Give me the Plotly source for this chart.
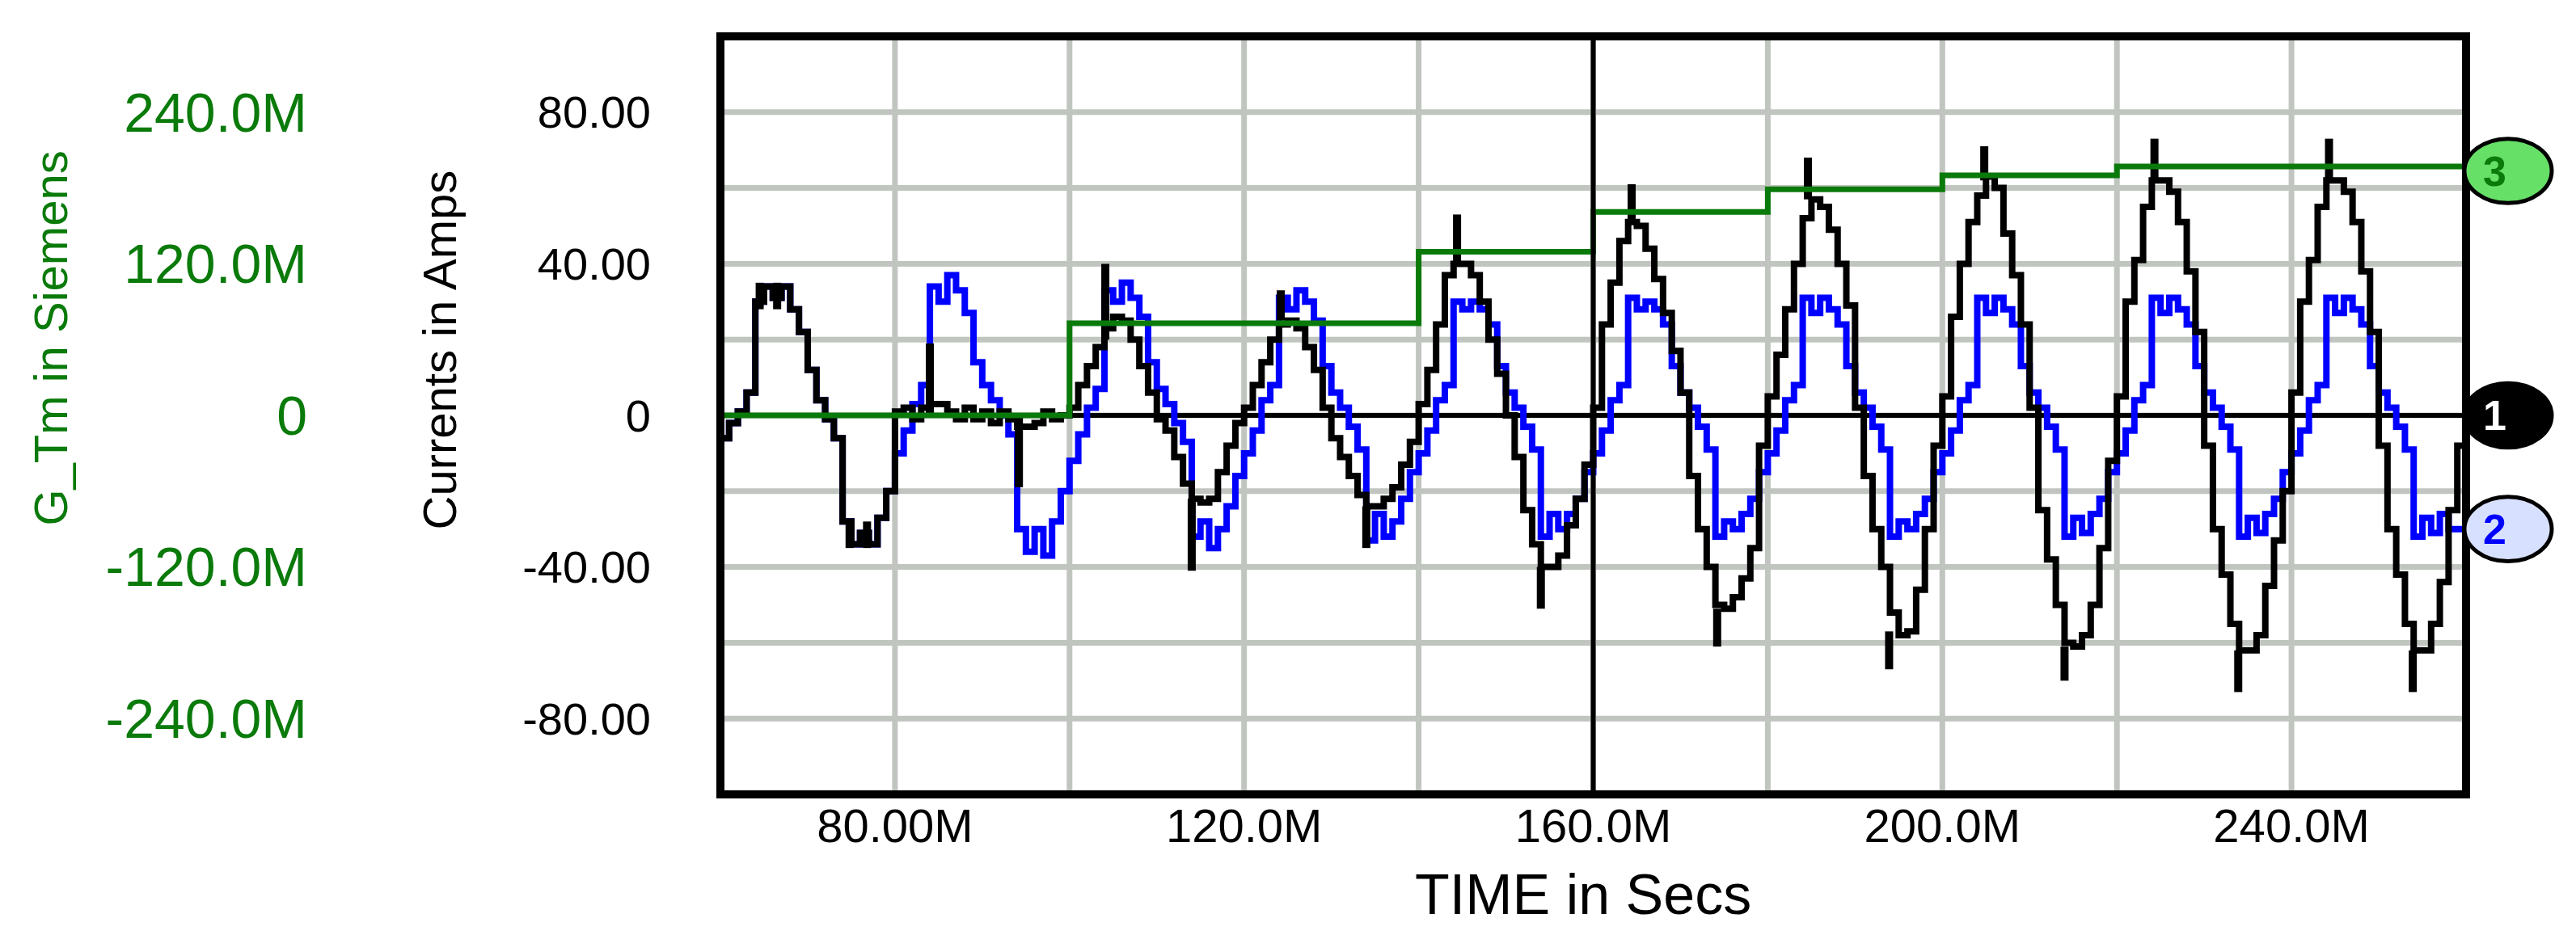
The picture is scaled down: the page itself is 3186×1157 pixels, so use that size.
import plotly.graph_objects as go

# ---- data (time in M-seconds, currents in A, conductance in M Siemens) ----
t_black = list(range(60, 261))
black = [
    -6, -2, 1, 6, 30, 34, 31, 34, 28, 22, 12, 4, -1, -6, -28, -34, -31, -34, -27, -20,          # 60-79
    1, 2, -1, 2, 3, 3, 1, -1, 2, -1, 1, -2, 1, -1, -3, -3, -2, 1, -1, 0,                        # 80-99
    2, 8, 13, 18, 23, 26, 25, 20, 13, 6, -1, -4, -11, -18, -22, -23, -22, -15, -8, -2,          # 100-119
    2, 8, 14, 20, 24, 25, 23, 18, 12, 2, -6, -11, -16, -21, -24, -24, -22, -19, -13, -7,        # 120-139
    3, 12, 24, 37, 40, 40, 37, 30, 20, 11, 0, -11, -25, -34, -40, -40, -37, -29, -22, -13,      # 140-159
    2, 24, 35, 46, 51, 50, 44, 36, 27, 17, 6, -16, -30, -40, -50, -51, -48, -43, -35, -8,       # 160-179
    5, 16, 28, 40, 52, 57, 55, 49, 40, 29, 2, -16, -30, -40, -52, -58, -57, -46, -30, -8,       # 180-199
    5, 26, 40, 51, 58, 63, 60, 48, 37, 24, 2, -25, -38, -50, -60, -61, -58, -50, -35, -12,      # 200-219
    5, 30, 41, 55, 62, 62, 59, 51, 38, 22, -8, -30, -42, -55, -62, -62, -58, -45, -33, -20,     # 220-239
    6, 30, 41, 55, 62, 62, 59, 51, 38, 22, -8, -30, -42, -55, -62, -62, -55, -44, -25, -8,      # 240-259
    -5,                                                                                          # 260
]
spike_t = [64.5, 66.5, 74.8, 76.8, 84.0, 94.2, 104.1, 114.0, 124.2, 134.0, 144.4, 154.0,
           164.4, 174.2, 184.6, 193.9, 204.8, 214.0, 224.3, 233.9, 244.3, 253.9]
spike_lo = [28, 28, -28, -28, 0, -19, 20, -22, 25, -24, 40, -40,
            51, -51, 57, -57, 62, -61, 62, -62, 62, -62]
spike_hi = [35, 35, -35, -35, 19, 0, 40, -41, 33, -35, 53, -51,
            61, -61, 68, -67, 71, -70, 73, -73, 73, -73]

t_blue = list(range(60, 261))
blue = [
    -6, -2, 1, 6, 30, 34, 31, 34, 28, 22, 12, 4, -1, -6, -28, -34, -31, -34, -27, -20,          # 60-79
    -10, -4, 3, 8, 34, 30, 37, 33, 27, 14, 8, 4, 0, -5, -30, -36, -30, -37, -28, -20,            # 80-99
    -12, -5, 2, 7, 33, 30, 35, 31, 26, 14, 7, 3, -2, -7, -32, -28, -35, -30, -24, -16,           # 100-119
    -10, -4, 4, 8, 31, 28, 33, 30, 25, 13, 6, 2, -3, -9, -33, -26, -32, -28, -22, -15,           # 120-139
    -10, -4, 4, 8, 30, 28, 30, 28, 24, 13, 6, 2, -3, -9, -32, -26, -30, -26, -22, -15,           # 140-159
    -10, -4, 4, 8, 31, 28, 30, 28, 24, 13, 6, 2, -3, -9, -32, -28, -30, -26, -22, -15,           # 160-179
    -10, -4, 4, 8, 31, 27, 31, 28, 24, 13, 6, 2, -3, -9, -32, -28, -30, -26, -22, -15,           # 180-199
    -10, -4, 4, 8, 31, 27, 31, 28, 24, 13, 6, 2, -3, -9, -32, -27, -31, -26, -22, -15,           # 200-219
    -10, -4, 4, 8, 31, 27, 31, 28, 24, 13, 6, 2, -3, -9, -32, -27, -31, -26, -22, -15,           # 220-239
    -10, -4, 4, 8, 31, 27, 31, 28, 24, 13, 6, 2, -3, -9, -32, -27, -31, -26, -30, -30,           # 240-259
    -30,                                                                                          # 260
]

t_green = [60, 100, 140, 160, 180, 200, 220, 260]
green = [0, 73, 129.5, 161, 179, 190, 197, 197]

x_ticks = [80, 120, 160, 200, 240]
x_tick_labels = ["80.00M", "120.0M", "160.0M", "200.0M", "240.0M"]
y_ticks = [-80, -40, 0, 40, 80]
y_tick_labels = ["-80.00", "-40.00", "0", "40.00", "80.00"]
y2_ticks = [-240, -120, 0, 120, 240]
y2_tick_labels = ["-240.0M", "-120.0M", "0", "120.0M", "240.0M"]
cursor_t = 160
label_names = ["3", "1", "2"]
label_y = [64.5, 0, -30]

# ---- figure ----
W, H = 3186, 1157
ML, MR, MT, MB = 20, 144, 37, 182
plot_w = W - ML - MR
dom0 = (883 - ML) / plot_w
FONT = "Liberation Sans, Arial, sans-serif"
NARROW = "Liberation Sans Narrow, Liberation Sans, Arial, sans-serif"
GRID = "#c0c5bf"

fig = go.Figure()
fig.add_trace(go.Scatter(x=t_green, y=green, yaxis="y2", mode="lines",
                         line=dict(color="#0a7a0a", width=7, shape="hv"), showlegend=False))
fig.add_trace(go.Scatter(x=t_blue, y=blue, mode="lines",
                         line=dict(color="#0000ff", width=8, shape="hv"), showlegend=False))
fig.add_trace(go.Scatter(x=t_black, y=black, mode="lines",
                         line=dict(color="black", width=8, shape="hv"), showlegend=False))
sx, sy = [], []
for t, lo, hi in zip(spike_t, spike_lo, spike_hi):
    sx += [t, t, None]
    sy += [lo, hi, None]
fig.add_trace(go.Scatter(x=sx, y=sy, mode="lines", line=dict(color="black", width=10),
                         showlegend=False))

fig.update_layout(
    width=W, height=H, margin=dict(l=ML, r=MR, t=MT, b=MB),
    paper_bgcolor="white", plot_bgcolor="white",
    xaxis=dict(domain=[dom0, 1], range=[60, 260], tickvals=x_ticks, ticktext=x_tick_labels,
               showgrid=False,
               tickfont=dict(family=NARROW, size=58, color="black"), ticks="",
               ticklabelstandoff=0, zeroline=False, showline=False),
    yaxis=dict(range=[-100, 100], tickvals=y_ticks, ticktext=y_tick_labels,
               tickfont=dict(family=FONT, size=56, color="black"), ticks="",
               ticklabelstandoff=85, showgrid=False, zeroline=False, showline=False),
    yaxis2=dict(range=[-300, 300], overlaying="y", anchor="free", side="left",
                position=(372 - ML) / plot_w, tickvals=y2_ticks, ticktext=y2_tick_labels,
                tickfont=dict(family=FONT, size=68, color="#0a7a0a"), ticks="",
                showgrid=False, zeroline=False, showline=False),
)
# grid every 20 A and every 20 M
for g in range(-80, 100, 20):
    fig.add_shape(type="line", xref="x domain", yref="y", x0=0, x1=1, y0=g, y1=g,
                  line=dict(color=GRID, width=7), layer="below")
for g in range(80, 260, 20):
    fig.add_shape(type="line", xref="x", yref="y domain", x0=g, x1=g, y0=0, y1=1,
                  line=dict(color=GRID, width=7), layer="below")
fig.add_shape(type="line", xref="x domain", yref="y", x0=0, x1=1, y0=0, y1=0,
              line=dict(color="black", width=6), layer="below")
fig.add_shape(type="line", xref="x", yref="y domain", x0=cursor_t, x1=cursor_t, y0=0, y1=1,
              line=dict(color="black", width=6))
fig.add_shape(type="rect", xref="x domain", yref="y domain", x0=0, x1=1, y0=0, y1=1,
              line=dict(color="black", width=10))

# end-of-trace labels
xc = 1 + (3096 - 3044) / plot_w
hw = 54 / plot_w
hh = 17.0
fills = ["#66e066", "black", "#d8e0ff"]
tcols = ["#0a7a0a", "white", "#0000ff"]
for name, yv, fc, tc in zip(label_names, label_y, fills, tcols):
    fig.add_shape(type="circle", xref="paper", yref="y", x0=xc - hw, x1=xc + hw,
                  y0=yv - hh / 2, y1=yv + hh / 2,
                  fillcolor=fc, line=dict(color="black", width=5))
    fig.add_annotation(text="<b>%s</b>" % name, xref="paper", yref="y", x=xc, y=yv,
                       showarrow=False, font=dict(family=FONT, size=52, color=tc))

fig.add_annotation(text="TIME in Secs", xref="paper", yref="paper",
                   x=(1950 - ML) / plot_w, y=-(1140 - (H - MB)) / (H - MT - MB),
                   showarrow=False, font=dict(family=NARROW, size=70, color="black"))
fig.add_annotation(text="Currents in Amps", xref="paper", yref="paper", textangle=-90,
                   x=(500 - ML) / plot_w, y=1 - (425 - MT) / (H - MT - MB),
                   showarrow=False, font=dict(family=FONT, size=58, color="black"))
fig.add_annotation(text="G_Tm in Siemens", xref="paper", yref="paper", textangle=-90,
                   x=(20 - ML) / plot_w + 0.0, y=1 - (411 - MT) / (H - MT - MB),
                   xanchor="left",
                   showarrow=False, font=dict(family=FONT, size=58, color="#0a7a0a"))

fig.write_html("out.html")
